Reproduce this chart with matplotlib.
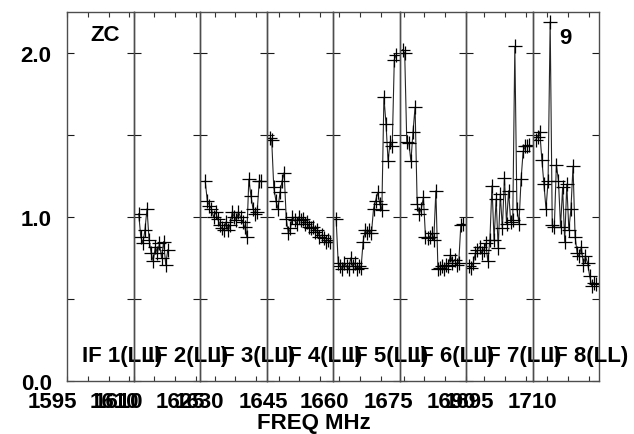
import numpy as np
import matplotlib
matplotlib.use('Agg')
import matplotlib.pyplot as plt
from matplotlib import transforms

plt.rcParams['font.family'] = ['Liberation Sans', 'DejaVu Sans']
plt.rcParams['font.weight'] = 'bold'

#%%
"""Data: one list of amplitudes per IF"""
if_start = [1595.0, 1610.0, 1626.5, 1642.1, 1658.5, 1674.0, 1690.6, 1706.4]   # MHz
if_width = 16.0
nchan = 32
first_chan = [0, 2, 2, 1, 1, 1, 1, 1]

amp_if1 = []
amp_if2 = [1.02, 0.88, 0.84, 0.92, 1.05, 0.86, 0.78, 0.73, 0.82, 0.78, 0.84, 0.75, 0.85, 0.71, 0.80]
amp_if3 = [1.22, 1.10, 1.07, 1.05, 1.00, 1.03, 0.99, 0.95, 0.93, 0.92, 0.97, 0.92, 0.95, 1.03,
           1.00, 0.98, 1.03, 1.00, 0.97, 0.94, 0.88, 1.23, 1.13, 1.05, 1.02, 1.03, 1.22, 1.22]
amp_if4 = [1.48, 1.47, 1.18, 1.10, 1.05, 1.15, 1.22, 1.27, 0.99, 0.90, 0.93, 1.00, 0.98, 0.96, 1.00,
           0.98, 0.99, 0.96, 0.97, 0.94, 0.93, 0.94, 0.91, 0.92, 0.88, 0.89, 0.87, 0.85, 0.86, 0.85]
amp_if5 = [0.99, 0.72, 0.70, 0.68, 0.72, 0.70, 0.68, 0.75, 0.70, 0.72, 0.68, 0.70, 0.69, 0.85, 0.92,
           0.90, 0.92, 0.90, 1.05, 1.10, 1.15, 1.08, 1.04, 1.73, 1.57, 1.34, 1.46, 1.43, 1.96, 1.99]
amp_if6 = [2.02, 2.00, 1.46, 1.45, 1.34, 1.52, 1.67, 1.08, 1.02, 1.05, 1.12, 0.88, 0.87, 0.88, 0.90,
           0.86, 1.16, 0.68, 0.69, 0.70, 0.68, 0.71, 0.70, 0.77, 0.72, 0.74, 0.71, 0.72, 0.95, 0.96]
amp_if7 = [0.70, 0.69, 0.72, 0.78, 0.80, 0.82, 0.78, 0.80, 0.84, 0.73, 0.86, 1.19, 0.86, 1.11, 0.81,
           1.14, 0.93, 1.24, 0.96, 1.16, 0.97, 0.98, 2.04, 1.05, 0.96, 1.23, 1.40, 1.43, 1.43, 1.44]
amp_if8 = [1.47, 1.49, 1.52, 1.35, 1.20, 1.05, 1.22, 2.19, 0.95, 0.94, 1.32, 1.22, 0.94, 1.18, 0.85,
           1.20, 0.92, 1.05, 1.31, 0.88, 0.78, 0.76, 0.82, 0.71, 0.76, 0.72, 0.64, 0.58, 0.60, 0.59]
amps = [amp_if1, amp_if2, amp_if3, amp_if4, amp_if5, amp_if6, amp_if7, amp_if8]

freq_labels = [[1595, 1610], [1610, 1625], [1630], [1645], [1660], [1675, 1690], [1695], [1710]]
y_ticks = [0.0, 0.5, 1.0, 1.5, 2.0]
y_ticklabels = ['0.0', '', '1.0', '', '2.0']

#%%
"""Plotting"""
W, H = 634, 435
fig, axs = plt.subplots(1, 8, sharey=True, figsize=(W/100, H/100), dpi=100)
fig.subplots_adjust(left=67/W, right=599/W, bottom=1-382/H, top=1-13/H, wspace=0)

chw = if_width / nchan
for i, ax in enumerate(axs):
    ax.set_facecolor('none')
    f0 = if_start[i]
    ax.set_xlim(f0, f0 + if_width)
    ax.set_ylim(0, 2.25)
    if amps[i]:
        ch = first_chan[i] + np.arange(len(amps[i]))
        freq = f0 + (ch + 0.5) * chw
        ax.plot(freq, amps[i], color='0.15', lw=0.8, marker='+', ms=10, mew=0.9, mec='black')

    ax.set_xticks(np.arange(np.ceil(f0/5)*5, f0 + if_width + 0.01, 5))
    ax.tick_params(axis='x', direction='in', top=True, bottom=True, length=3.6, width=0.8,
                   color='0.2', labelbottom=False)
    ax.tick_params(axis='y', direction='in', left=True, right=True, length=5, width=0.8,
                   color='0.1', labelsize=16, pad=11)
    for s in ax.spines.values():
        s.set_color('0.3')
        s.set_linewidth(1)

    # per-IF frequency labels
    trans = transforms.offset_copy(ax.get_xaxis_transform(), fig=fig, x=-15, y=-10, units='dots')
    for f in freq_labels[i]:
        ax.text(f, 0, str(f), transform=trans, ha='center', va='top', fontsize=16, fontweight='bold')

    ax.text(15/66.5, 20/369, 'IF %d(LL)' % (i + 1), transform=ax.transAxes,
            ha='left', va='baseline', fontsize=16, fontweight='bold')

axs[0].set_yticks(y_ticks)
axs[0].set_yticklabels(y_ticklabels)

axs[0].text(0.346, 0.938, 'ZC', transform=axs[0].transAxes, ha='left', va='center',
            fontsize=16, fontweight='bold')
axs[7].text(0.496, 0.932, '9', transform=axs[7].transAxes, ha='center', va='center',
            fontsize=16, fontweight='bold')
fig.text(314/W, 1-424/H, 'FREQ MHz', ha='center', va='center', fontsize=16, fontweight='bold')

fig.savefig('out.png', dpi=100)
